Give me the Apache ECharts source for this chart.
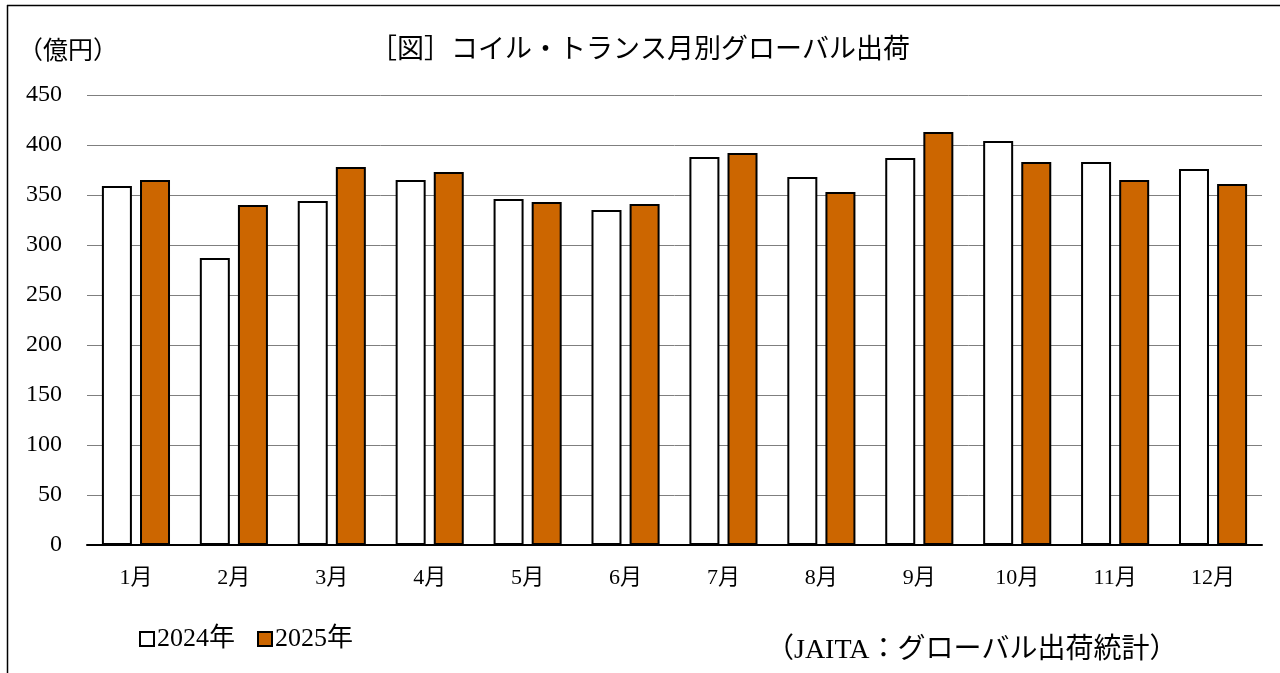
<!DOCTYPE html>
<html>
<head>
<meta charset="utf-8">
<script src="https://cdn.jsdelivr.net/npm/echarts@6/dist/echarts.min.js"></script>
<style>
html, body { margin: 0; padding: 0; background: #fff; }
#chart { width: 1280px; height: 673px; }
</style>
</head>
<body>
<div id="chart"></div>
<script>
// 月別データ（億円）
var months = ['1月', '2月', '3月', '4月', '5月', '6月', '7月', '8月', '9月', '10月', '11月', '12月'];
var y2024 = [359, 287, 344, 365, 346, 335, 388, 368, 387, 404, 383, 376];
var y2025 = [365, 340, 378, 373, 343, 341, 392, 353, 413, 383, 365, 361];
var yTicks = [0, 50, 100, 150, 200, 250, 300, 350, 400, 450];

var serif = '"Liberation Serif", "Noto Sans CJK JP", serif';

var option = {
    animation: false,
    title: {
        text: '［図］コイル・トランス月別グローバル出荷',
        left: 'center',
        top: 29,
        textStyle: {
            fontFamily: '"Noto Sans CJK JP", sans-serif',
            fontSize: 27,
            fontWeight: 'normal',
            color: '#000'
        }
    },
    legend: {
        data: ['2024年', '2025年'],
        left: 134,
        top: 621,
        icon: 'rect',
        itemWidth: 14,
        itemHeight: 14,
        itemGap: 22,
        textStyle: { fontFamily: serif, fontSize: 26, color: '#000', padding: [0, 0, 0, -2] }
    },
    grid: {
        left: 87,
        right: 18,
        top: 95,
        bottom: 128
    },
    xAxis: {
        type: 'category',
        data: months,
        axisLine: { lineStyle: { color: '#000', width: 2 } },
        axisTick: { show: false },
        axisLabel: { fontFamily: serif, fontSize: 22, color: '#000', margin: 22 }
    },
    yAxis: {
        type: 'value',
        min: yTicks[0],
        max: yTicks[yTicks.length - 1],
        interval: 50,
        axisLine: { show: false },
        axisTick: { show: false },
        axisLabel: { fontFamily: serif, fontSize: 24, color: '#000', margin: 25 },
        splitLine: { lineStyle: { color: '#7f7f7f', width: 1 } }
    },
    series: [
        {
            name: '2024年',
            type: 'bar',
            data: y2024,
            barWidth: 30,
            barGap: '27%',
            itemStyle: { color: '#fff', borderColor: '#000', borderWidth: 2 }
        },
        {
            name: '2025年',
            type: 'bar',
            data: y2025,
            barWidth: 30,
            itemStyle: { color: '#cc6600', borderColor: '#000', borderWidth: 2 }
        }
    ],
    graphic: [
        { type: 'line', shape: { x1: 7.5, y1: 5, x2: 7.5, y2: 673 }, style: { stroke: '#000', lineWidth: 1.5 } },
        { type: 'line', shape: { x1: 7, y1: 5.5, x2: 1280, y2: 5.5 }, style: { stroke: '#000', lineWidth: 1.5 } },
        {
            type: 'text', left: 18, top: 40,
            style: { text: '（億円）', font: '25px ' + serif, fill: '#000' }
        },
        {
            type: 'text', left: 766, top: 637,
            style: { text: '（JAITA：グローバル出荷統計）', font: '28px ' + serif, fill: '#000' }
        }
    ]
};

var myChart = echarts.init(document.getElementById('chart'));
myChart.setOption(option);
window.addEventListener('resize', function () {
    myChart.resize();
});
</script>
</body>
</html>
